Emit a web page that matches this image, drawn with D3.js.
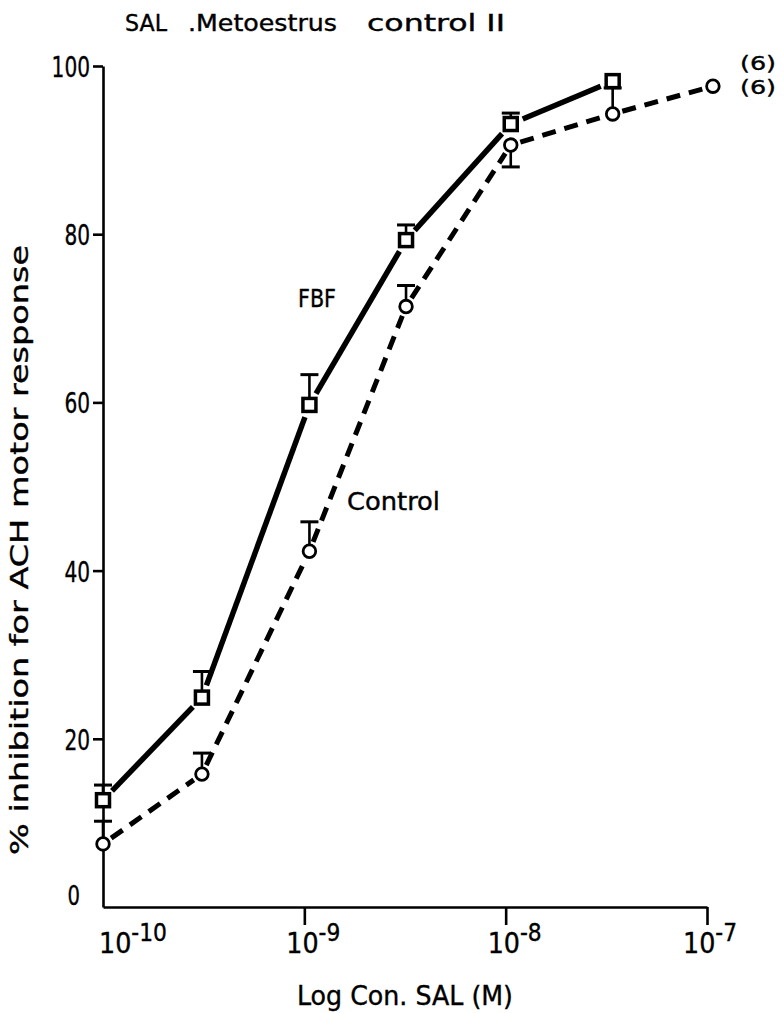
<!DOCTYPE html>
<html>
<head>
<meta charset="utf-8">
<script src="https://cdn.jsdelivr.net/npm/d3@7"></script>
<style>
  html, body { margin: 0; padding: 0; background: #fff; }
  svg { display: block; }
  text { font-family: "DejaVu Sans Condensed", "DejaVu Sans", "Liberation Sans", sans-serif; fill: #000; stroke: #000; stroke-width: 0.35px; }
</style>
</head>
<body>
<div id="chart"></div>
<script>
// ---------------- data ----------------
const concentrations = [1e-10, 3.1e-10, 1.06e-9, 3.2e-9, 1.06e-8, 3.4e-8, 1.07e-7];
const fbfValues   = [12.7, 24.9, 59.7, 79.3, 93.1, 98.2];
const fbfSem      = [1.8, 3.1, 3.6, 1.8, 1.3, 0];
const controlValues = [7.5, 15.8, 42.3, 71.4, 90.6, 94.3, 97.6];
const controlSem    = [2.7, 2.5, 3.5, 2.5, -2.6, 3.1, 0];   // negative = error bar drawn downward
const yTickValues = [20, 40, 60, 80, 100];
const xTickExponents = [-10, -9, -8, -7];
const nLabels = ["(6)", "(6)"];
const titleParts = ["SAL", ".Metoestrus", "control II"];
const seriesNames = ["FBF", "Control"];
const xTitle = "Log Con. SAL (M)";
const yTitle = "% inhibition for ACH motor response";

// ---------------- layout ----------------
const W = 784, H = 1013;
const svg = d3.select("#chart").append("svg").attr("width", W).attr("height", H);

const x = d3.scaleLog().domain([1e-10, 1e-7]).range([103, 707]);
const y = d3.scaleLinear().domain([0, 100]).range([907, 66]);

// Title
const titleX = [125, 188, 367], titleLen = [42, 149, 138];
titleParts.forEach((t, i) => {
  svg.append("text").attr("x", titleX[i]).attr("y", 31)
    .attr("font-size", 23).attr("textLength", titleLen[i]).attr("lengthAdjust", "spacingAndGlyphs")
    .text(t);
});

// Y axis
const yAxis = svg.append("g").attr("transform", "translate(103,0)")
  .call(d3.axisLeft(y).tickValues(yTickValues).tickSize(10).tickSizeOuter(0).tickFormat(""));
yAxis.select(".domain").attr("stroke", "#000").attr("stroke-width", 2.6);
yAxis.selectAll(".tick line").attr("stroke", "#000").attr("stroke-width", 2.6);
yTickValues.forEach(v => {
  const s = String(v);
  svg.append("text").attr("x", 90).attr("y", y(v) + 11)
    .attr("text-anchor", "end").attr("font-size", 29)
    .attr("textLength", s.length * 12.8).attr("lengthAdjust", "spacingAndGlyphs")
    .text(s);
});
svg.append("text").attr("x", 80).attr("y", 905).attr("text-anchor", "end")
  .attr("font-size", 27).attr("textLength", 12.5).attr("lengthAdjust", "spacingAndGlyphs").text("0");

// X axis
const xAxis = svg.append("g").attr("transform", "translate(0,907)")
  .call(d3.axisBottom(x).tickValues(xTickExponents.slice(1).map(e => Math.pow(10, e)))
    .tickSize(18).tickSizeOuter(0).tickFormat(""));
xAxis.select(".domain").attr("stroke", "#000").attr("stroke-width", 2.6);
xAxis.selectAll(".tick line").attr("stroke", "#000").attr("stroke-width", 2.6);
xTickExponents.forEach((e, i) => {
  const tx = x(Math.pow(10, e));
  const start = tx - 18 + (i === 0 ? 14 : (i === xTickExponents.length - 1 ? -6 : 0));
  const ex = String(e);
  const t = svg.append("text").attr("x", start).attr("y", 953)
    .attr("textLength", 26 + ex.length * 14).attr("lengthAdjust", "spacingAndGlyphs");
  t.append("tspan").attr("font-size", 28).text("10");
  t.append("tspan").attr("font-size", 24).attr("dy", -12).text(ex);
});

// Axis titles
svg.append("text").attr("x", 297).attr("y", 1005).attr("font-size", 27)
  .attr("textLength", 216).attr("lengthAdjust", "spacingAndGlyphs").text(xTitle);
svg.append("text").attr("transform", "translate(28,550) rotate(-90)")
  .attr("text-anchor", "middle").attr("font-size", 25)
  .attr("textLength", 610).attr("lengthAdjust", "spacingAndGlyphs").text(yTitle);

// ---------------- series ----------------
function makePoints(vals, sems) {
  return vals.map((v, i) => ({ c: concentrations[i], v: v, s: sems[i] }));
}
const fbf = makePoints(fbfValues, fbfSem);
const ctl = makePoints(controlValues, controlSem);

function drawSegments(pts, gap, attrs) {
  const g = svg.append("g");
  const line = d3.line();
  for (let i = 0; i < pts.length - 1; i++) {
    const x0 = x(pts[i].c), y0 = y(pts[i].v), x1 = x(pts[i + 1].c), y1 = y(pts[i + 1].v);
    const dx = x1 - x0, dy = y1 - y0, L = Math.hypot(dx, dy);
    const ux = dx / L, uy = dy / L;
    const p = g.append("path")
      .attr("d", line([[x0 + ux * gap, y0 + uy * gap], [x1 - ux * gap, y1 - uy * gap]]))
      .attr("fill", "none").attr("stroke", "#000");
    Object.entries(attrs).forEach(([k, val]) => p.attr(k, val));
  }
}
drawSegments(fbf, 13, { "stroke-width": 5.5 });
drawSegments(ctl, 10, { "stroke-width": 5, "stroke-dasharray": "14,9" });

function drawErrors(pts) {
  const g = svg.append("g");
  pts.filter(d => d.s !== 0).forEach(d => {
    const cx = x(d.c), y0 = y(d.v), y1 = y(d.v + d.s);
    g.append("line").attr("x1", cx).attr("x2", cx).attr("y1", y0).attr("y2", y1)
      .attr("stroke", "#000").attr("stroke-width", 2.6);
    g.append("line").attr("x1", cx - 9).attr("x2", cx + 9).attr("y1", y1).attr("y2", y1)
      .attr("stroke", "#000").attr("stroke-width", 3);
  });
}
drawErrors(fbf);
drawErrors(ctl);

// markers
svg.append("g").selectAll("circle").data(ctl).join("circle")
  .attr("cx", d => x(d.c)).attr("cy", d => y(d.v)).attr("r", 6.3)
  .attr("fill", "#fff").attr("stroke", "#000").attr("stroke-width", 2.8);
svg.append("g").selectAll("rect").data(fbf).join("rect")
  .attr("x", d => x(d.c) - 6.5).attr("y", d => y(d.v) - 6.5)
  .attr("width", 13).attr("height", 13)
  .attr("fill", "#fff").attr("stroke", "#000").attr("stroke-width", 3.5);

// labels
svg.append("text").attr("x", 298).attr("y", 307).attr("font-size", 24)
  .attr("textLength", 38).attr("lengthAdjust", "spacingAndGlyphs").text(seriesNames[0]);
svg.append("text").attr("x", 347).attr("y", 510).attr("font-size", 24)
  .attr("textLength", 93).attr("lengthAdjust", "spacingAndGlyphs").text(seriesNames[1]);
svg.append("text").attr("x", 740).attr("y", 70).attr("font-size", 20)
  .attr("textLength", 36).attr("lengthAdjust", "spacingAndGlyphs").text(nLabels[0]);
svg.append("text").attr("x", 740).attr("y", 94).attr("font-size", 20)
  .attr("textLength", 36).attr("lengthAdjust", "spacingAndGlyphs").text(nLabels[1]);
</script>
</body>
</html>
